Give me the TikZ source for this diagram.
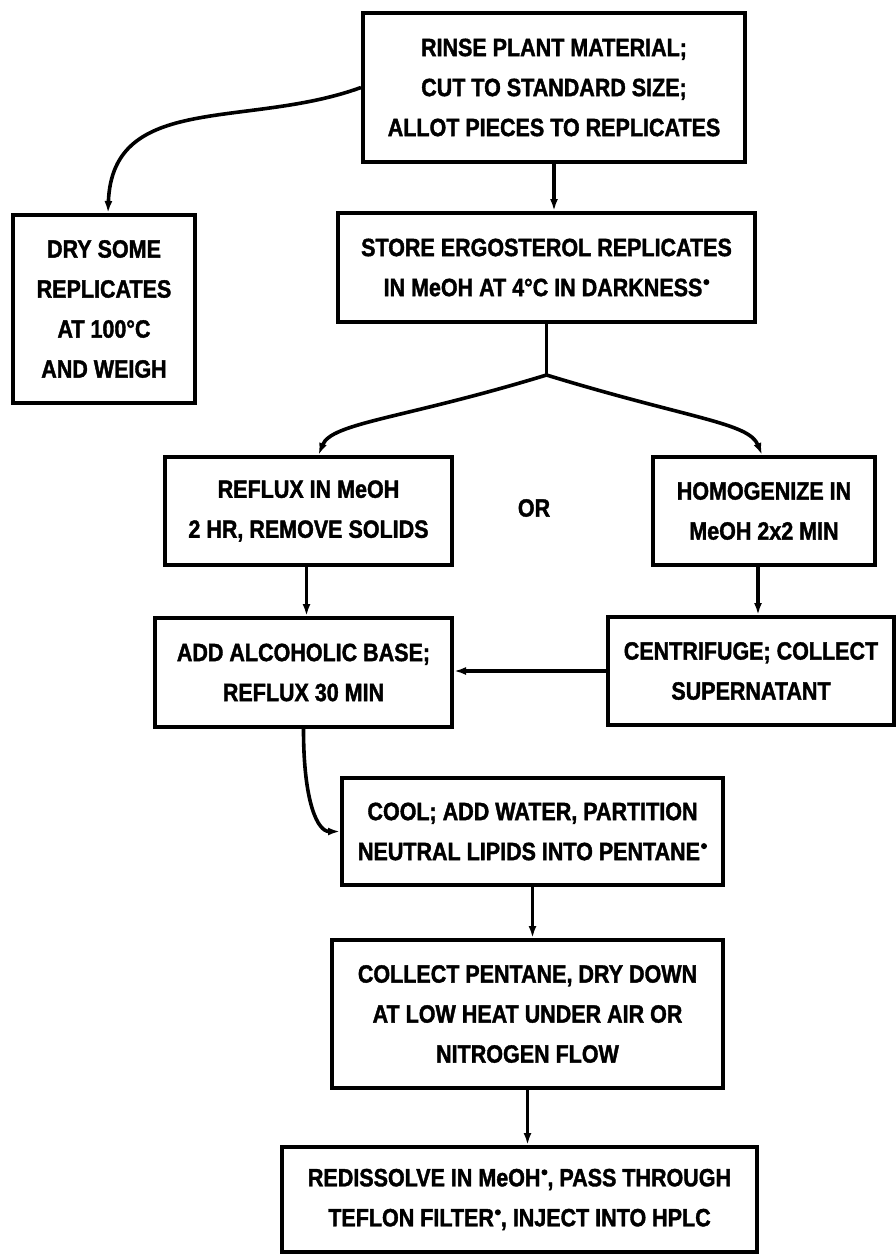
\documentclass[tikz,border=0pt]{standalone}
\usepackage{fontspec}
\setmainfont{Liberation Sans}[FakeStretch=0.86, BoldFeatures={FakeBold=1.5}]
\usetikzlibrary{arrows.meta}
\newcommand{\fnm}{\hspace{1pt}\tikz[baseline={(0pt,-14pt)},x=1pt,y=1pt]\fill (0,0) circle (3pt);}
\tikzset{
  box/.style={draw, line width=4pt, align=center, inner sep=0pt,
    font=\bfseries\fontsize{25}{40}\selectfont},
  lbl/.style={font=\bfseries\fontsize{25}{40}\selectfont},
  conn/.style={line width=3.6pt, -{Latex[length=12pt,width=8pt]}},
  plainline/.style={line width=3.6pt},
}
\begin{document}
\begin{tikzpicture}[x=1pt,y=-1pt]
\fill[white] (0,0) rectangle (896,1254);
\useasboundingbox (0,0) rectangle (896,1254);

\node[box, minimum width=382pt, minimum height=149pt] (rinse) at (554,87.5)
  {RINSE PLANT MATERIAL;\\CUT TO STANDARD SIZE;\\ALLOT PIECES TO REPLICATES};
\node[box, minimum width=182pt, minimum height=188pt] (dry) at (104,309)
  {DRY SOME\\REPLICATES\\AT 100°C\\AND WEIGH};
\node[box, minimum width=417pt, minimum height=109pt] (store) at (546.5,267.5)
  {STORE ERGOSTEROL REPLICATES\\IN MeOH AT 4°C IN DARKNESS\fnm};
\node[box, minimum width=287pt, minimum height=108pt] (reflux) at (308.5,511)
  {REFLUX IN MeOH\\2 HR, REMOVE SOLIDS};
\node[lbl] (or) at (534,508) {OR};
\node[box, minimum width=222pt, minimum height=108pt] (homog) at (764,511)
  {HOMOGENIZE IN\\MeOH 2x2 MIN};
\node[box, minimum width=297pt, minimum height=109pt] (add) at (303.5,672.5)
  {ADD ALCOHOLIC BASE;\\REFLUX 30 MIN};
\node[box, minimum width=286pt, minimum height=108pt] (centri) at (751,671)
  {CENTRIFUGE; COLLECT\\SUPERNATANT};
\node[box, minimum width=381pt, minimum height=107pt] (cool) at (532.5,831.5)
  {COOL; ADD WATER, PARTITION\\NEUTRAL LIPIDS INTO PENTANE\fnm};
\node[box, minimum width=391pt, minimum height=148pt] (collect) at (527.5,1014)
  {COLLECT PENTANE, DRY DOWN\\AT LOW HEAT UNDER AIR OR\\NITROGEN FLOW};
\node[box, minimum width=475pt, minimum height=105pt] (redis) at (519.5,1199.5)
  {REDISSOLVE IN MeOH\fnm, PASS THROUGH\\TEFLON FILTER\fnm, INJECT INTO HPLC};

\coordinate (j) at (546.5,375);

\draw[conn] (rinse.south) -- (rinse.south |- store.north);
\draw[conn] (rinse.west) to[out=200,in=88,looseness=1.1] ([xshift=4pt]dry.north);
\draw[plainline] (store.south) -- (j);
\draw[conn] (j) .. controls +(197:150pt) and +(68:35pt) .. ([xshift=10pt]reflux.north);
\draw[conn] (j) .. controls +(-17:150pt) and +(112:35pt) .. ([xshift=-2pt]homog.north);
\draw[conn] ([xshift=-2pt]reflux.south) -- ([xshift=-2pt]reflux.south |- add.north);
\draw[conn] ([xshift=-6pt]homog.south) -- ([xshift=-6pt]homog.south |- centri.north);
\draw[conn] (centri.west) -- (centri.west -| add.east);
\draw[conn] (add.south) .. controls +(0,-75pt) and +(-22pt,0) .. (cool.west);
\draw[conn] (cool.south) -- (cool.south |- collect.north);
\draw[conn] (collect.south) -- (collect.south |- redis.north);
\end{tikzpicture}
\end{document}
